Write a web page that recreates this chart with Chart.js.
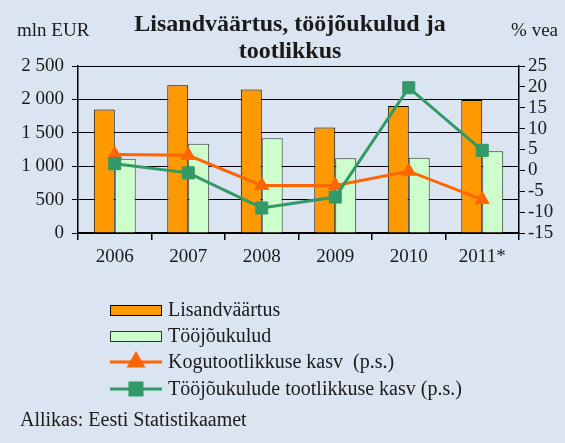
<!DOCTYPE html>
<html>
<head>
<meta charset="utf-8">
<script src="https://cdn.jsdelivr.net/npm/chart.js@4"></script>
<style>
  html, body { margin: 0; padding: 0; background: #dbe5f1; }
  #wrap { width: 565px; height: 443px; position: relative; }
</style>
</head>
<body>
<div id="wrap"><canvas id="tootlikkusChart"></canvas></div>
<script>
// data
const years = ['2006', '2007', '2008', '2009', '2010', '2011*'];
const lisandvaartus = [1850, 2210, 2150, 1580, 1900, 1990];
const toojoukulud = [1110, 1335, 1420, 1120, 1125, 1225];
const kogutootlikkus = [3.8, 3.6, -3.6, -3.6, -0.2, -7];
const toojouTootlikkus = [1.6, -0.6, -9, -6.4, 19.8, 4.8];
const leftTicks = [0, 500, 1000, 1500, 2000, 2500];
const rightTicks = [-15, -10, -5, 0, 5, 10, 15, 20, 25];

const serif = '"Liberation Serif", "DejaVu Serif", serif';
const ink = '#1a1a1a';

// background, titles, custom legend and source note
const decorPlugin = {
    id: 'decor',
    beforeDraw(chart) {
        const ctx = chart.ctx;
        ctx.save();
        ctx.fillStyle = '#dbe5f1';
        ctx.fillRect(0, 0, chart.width, chart.height);
        ctx.restore();
    },
    afterDraw(chart) {
        const ctx = chart.ctx;
        ctx.save();
        ctx.fillStyle = ink;
        ctx.textBaseline = 'middle';

        ctx.font = 'bold 24px ' + serif;
        ctx.textAlign = 'center';
        ctx.fillText('Lisandväärtus, tööjõukulud ja', 290, 25);
        ctx.fillText('tootlikkus', 290, 52);

        ctx.font = '19px ' + serif;
        ctx.textAlign = 'left';
        ctx.fillText('mln EUR', 17, 31);
        ctx.textAlign = 'right';
        ctx.fillText('% vea', 558, 31);

        // legend
        const rows = [310, 336, 362, 389];
        ctx.textAlign = 'left';
        ctx.font = '20px ' + serif;
        chart.data.datasets.forEach((ds, i) => {
            const y = rows[i];
            if (ds.type === 'line') {
                ctx.strokeStyle = ds.borderColor;
                ctx.lineWidth = 3;
                ctx.beginPath();
                ctx.moveTo(110, y);
                ctx.lineTo(162, y);
                ctx.stroke();
                ctx.fillStyle = ds.backgroundColor;
                Chart.helpers.drawPoint(ctx, {
                    pointStyle: ds.pointStyle,
                    radius: ds.pointRadius,
                    rotation: 0,
                    borderWidth: 1
                }, 136, y);
            } else {
                ctx.fillStyle = ds.backgroundColor;
                ctx.fillRect(110, y - 5, 52, 11);
                ctx.strokeStyle = ds.borderColor;
                ctx.lineWidth = 1;
                ctx.strokeRect(110.5, y - 4.5, 51, 10);
            }
            ctx.fillStyle = ink;
            ctx.fillText(ds.label, 168, y + 1);
        });

        ctx.fillText('Allikas: Eesti Statistikaamet', 20, 421);
        ctx.restore();
    }
};

const ctx = document.getElementById('tootlikkusChart').getContext('2d');
new Chart(ctx, {
    data: {
        labels: years,
        datasets: [{
            type: 'bar',
            label: 'Lisandväärtus',
            data: lisandvaartus,
            yAxisID: 'yLeft',
            backgroundColor: '#ff9900',
            borderColor: '#000000',
            borderWidth: 1,
            order: 3
        }, {
            type: 'bar',
            label: 'Tööjõukulud',
            data: toojoukulud,
            yAxisID: 'yLeft',
            backgroundColor: '#ccffcc',
            borderColor: '#333333',
            borderWidth: 1,
            order: 3
        }, {
            type: 'line',
            label: 'Kogutootlikkuse kasv  (p.s.)',
            data: kogutootlikkus,
            yAxisID: 'yRight',
            borderColor: '#ff6600',
            backgroundColor: '#ff6600',
            borderWidth: 3,
            pointStyle: 'triangle',
            pointRadius: 8,
            pointBorderWidth: 1,
            order: 1
        }, {
            type: 'line',
            label: 'Tööjõukulude tootlikkuse kasv (p.s.)',
            data: toojouTootlikkus,
            yAxisID: 'yRight',
            borderColor: '#339966',
            backgroundColor: '#339966',
            borderWidth: 3,
            pointStyle: 'rect',
            pointRadius: 8.5,
            pointBorderWidth: 1,
            order: 0
        }]
    },
    options: {
        responsive: true,
        maintainAspectRatio: false,
        animation: false,
        layout: { padding: { top: 66, bottom: 170, left: 0, right: 0 } },
        datasets: { bar: { barPercentage: 1, categoryPercentage: 0.57 } },
        plugins: {
            legend: { display: false },
            title: { display: false },
            tooltip: { enabled: false }
        },
        scales: {
            x: {
                offset: true,
                grid: {
                    offset: true,
                    drawOnChartArea: false,
                    tickLength: 7,
                    color: '#000000',
                    lineWidth: 1.5
                },
                border: { color: '#000000', width: 1.5 },
                ticks: { color: ink, font: { family: serif, size: 19 }, padding: 6 },
                afterFit(scale) { scale.height = 40; }
            },
            yLeft: {
                position: 'left',
                min: 0,
                max: 2500,
                afterBuildTicks(scale) { scale.ticks = leftTicks.map(v => ({ value: v })); },
                grid: {
                    color: '#000000',
                    borderDash: [2, 2],
                    tickBorderDash: [],
                    tickLength: 6,
                    lineWidth: 1
                },
                border: { color: '#000000', width: 1.5 },
                ticks: {
                    color: ink,
                    font: { family: serif, size: 19 },
                    padding: 8,
                    autoSkip: false,
                    callback: v => v >= 1000 ? Math.floor(v / 1000) + ' ' + String(v % 1000).padStart(3, '0') : String(v)
                },
                afterFit(scale) { scale.width = 78; }
            },
            yRight: {
                position: 'right',
                min: -15,
                max: 25,
                afterBuildTicks(scale) { scale.ticks = rightTicks.map(v => ({ value: v })); },
                grid: { drawOnChartArea: false, color: '#000000', tickLength: 6 },
                border: { color: '#000000', width: 1.5 },
                ticks: { color: ink, font: { family: serif, size: 19 }, padding: 3, autoSkip: false },
                afterFit(scale) { scale.width = 46; }
            }
        }
    },
    plugins: [decorPlugin]
});
</script>
</body>
</html>
